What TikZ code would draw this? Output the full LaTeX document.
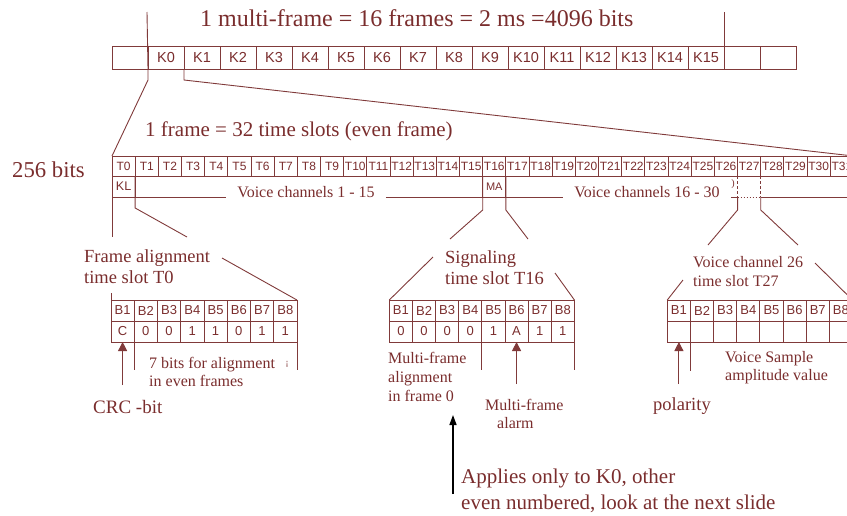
\documentclass[tikz,border=0pt]{standalone}
\usepackage{fontspec}
\setmainfont{Liberation Serif}
\newfontfamily\lsans{Liberation Sans}
\usetikzlibrary{arrows.meta}
\definecolor{tc}{RGB}{122,45,45}
\definecolor{lc}{RGB}{128,58,58}
\newcommand\myfs[1]{\fontsize{#1}{#1}\selectfont}
\begin{document}
\begin{tikzpicture}[x=1pt,y=-1pt,
 ln/.style={draw=lc,line width=0.9pt},
 cellb/.style={draw=lc,line width=0.9pt,inner sep=0pt,outer sep=0pt,anchor=north west,text=tc},
 kcell/.style={cellb,minimum width=36pt,minimum height=23pt,font=\lsans\myfs{14.5}},
 tcell/.style={cellb,minimum width=23.17pt,minimum height=20pt,font=\lsans\myfs{12}},
 bcell/.style={cellb,minimum width=23.2pt,minimum height=21pt,font=\lsans\myfs{13}},
 lab/.style={text=tc,inner sep=0pt,anchor=base west},
 arr/.style={draw=lc,line width=1pt,-{Triangle[length=9pt,width=9pt]}},
]
\useasboundingbox (0,0) rectangle (847,515);

% ---- multi-frame row
\node[kcell] (e0) at (112,46) {};
\foreach \i in {0,...,15} \node[kcell] (k\i) at ({148+36*\i},46) {K\i};
\node[kcell] (e17) at (724,46) {};
\node[kcell] (e18) at (760,46) {};
\node[lab,font=\myfs{24}] (title) at (200,26) {1 multi-frame = 16 frames = 2 ms =4096 bits};

% ---- frame row
\foreach \i in {0,...,31} \node[tcell] (t\i) at ({112+23.17*\i},156) {T\i};

\coordinate (topL) at (147,12);
\coordinate (topR) at (724,12);
\draw[ln] (topL) -- (k0.south west) -- ++(0,11) -- (t0.north west);
\draw[ln] (topR) -- (k15.north east);
\draw[ln] (k0.south east) -- ++(0,11) -- (t31.north east);
\node[lab,font=\myfs{21}] (ftitle) at (145,136) {1 frame = 32 time slots (even frame)};
\node[lab,font=\myfs{22.7}] (bits) at (12,177) {256 bits};

\node[tcell,minimum height=21pt,font=\lsans\myfs{12.5}] (kl) at (t0.south west) {KL};
\node[tcell,minimum height=21pt,font=\lsans\myfs{11}] (ma) at (t16.south west) {MA};
\node[lab,font=\myfs{16},inner xsep=11pt,anchor=base] (vc1) at (306,197) {Voice channels 1 - 15};
\node[lab,font=\myfs{16},inner xsep=11pt,anchor=base] (vc2) at (647,197) {Voice channels 16 - 30};
\node[text=tc,font=\myfs{10},inner sep=0pt] (paren) at (733,184) {)};

\draw[ln] (kl.south west) -- (kl.south west -| vc1.west);
\draw[ln] (vc1.east |- kl.south) -- (vc2.west |- kl.south);
\draw[ln] (vc2.east |- kl.south) -- (t27.south west |- kl.south);
\draw[draw=lc,line width=0.9pt,dash pattern=on 1.5pt off 1.5pt] (t27.south west |- kl.south) -- (t27.south east |- kl.south);
\draw[ln] (t27.south east |- kl.south) -- (t31.south east |- kl.south);
\draw[draw=lc,line width=0.9pt,dash pattern=on 3pt off 2pt] (t27.south west) -- (t27.south west |- kl.south);
\draw[draw=lc,line width=0.9pt,dash pattern=on 3pt off 2pt] (t27.south east) -- (t27.south east |- kl.south);

% zoom connectors
\coordinate (fa0) at (112,237);
\coordinate (fa1) at (187,237);
\coordinate (sg0) at (450,239);
\coordinate (sg1) at (528,239);
\coordinate (vq0) at (708,245);
\coordinate (vq1) at (798,245);
\draw[ln] (t0.north west) -- (fa0);
\draw[ln] (t0.south east) -- ++(0,32) -- (fa1);
\draw[ln] (t16.south west) -- ++(0,34) -- (sg0);
\draw[ln] (t16.south east) -- ++(0,34) -- (sg1);
\draw[ln] (t27.south west |- kl.south) -- ++(0,13) -- (vq0);
\draw[ln] (t27.south east |- kl.south) -- ++(0,13) -- (vq1);

% ---- frame alignment slot
\foreach \i in {1,...,8} \node[bcell] (fb\i) at ({111+23.25*(\i-1)},300) {B\i};
\foreach \v [count=\i] in {C,0,0,1,1,0,1,1} \node[bcell] (fv\i) at ({111+23.25*(\i-1)},321) {\v};
\node[lab,font=\myfs{18.5}] (fal1) at (84,262) {Frame alignment};
\node[lab,font=\myfs{18.5}] (fal2) at (84,283) {time slot T0};
\coordinate (fa2) at (222,258);
\draw[ln] (fa2) -- (fb8.north east);
\draw[ln] (fb1.north west) -- ++(0,-7);
\draw[ln] (fv1.south east) -- ++(0,28);
\draw[ln] (fv8.south east) -- ++(0,28);
\node[lab,font=\myfs{16}] (sb7a) at (149,368) {7 bits for alignment};
\node[lab,font=\myfs{16}] (sb7b) at (149,386) {in even frames};
\node[text=tc,font=\myfs{9},inner sep=0pt] (mark) at (287,364) {¡};
\draw[arr] ([yshift=-43pt]fv1.south) -- (fv1.south);
\node[lab,font=\myfs{19}] (crc) at (93,413) {CRC -bit};

% ---- signaling slot
\foreach \i in {1,...,8} \node[bcell] (sb\i) at ({389.3+23.13*(\i-1)},300) {B\i};
\foreach \v [count=\i] in {0,0,0,0,1,A,1,1} \node[bcell] (sv\i) at ({389.3+23.13*(\i-1)},321) {\v};
\node[lab,font=\myfs{18.5}] (sl1) at (445,263) {Signaling};
\node[lab,font=\myfs{18.5}] (sl2) at (445,284) {time slot T16};
\coordinate (sg2) at (433,257);
\coordinate (sg3) at (555,273);
\draw[ln] (sg2) -- (sb1.north west);
\draw[ln] (sg3) -- (sb8.north east);
\draw[ln] (sv4.south east) -- ++(0,28);
\draw[ln] (sv8.south east) -- ++(0,28);
\draw[arr] ([yshift=-42pt]sv6.south) -- (sv6.south);
\node[lab,font=\myfs{16}] (mf1) at (388,363) {Multi-frame};
\node[lab,font=\myfs{16}] (mf2) at (388,382) {alignment};
\node[lab,font=\myfs{16}] (mf3) at (388,401.5) {in frame 0};
\node[lab,font=\myfs{16}] (al1) at (485,410) {Multi-frame};
\node[lab,font=\myfs{16}] (al2) at (497,428) {alarm};

\coordinate (ap0) at (453,494);
\coordinate (ap1) at (453,415);
\draw[black,line width=1.5pt,-{Triangle[length=10pt,width=7pt]}] (ap0) -- (ap1);
\node[lab,font=\myfs{21}] (ap2) at (461,483) {Applies only to K0, other};
\node[lab,font=\myfs{21}] (ap3) at (461,509) {even numbered, look at the next slide};

% ---- voice slot
\foreach \i in {1,...,8} \node[bcell] (rb\i) at ({667.3+23.14*(\i-1)},300) {B\i};
\foreach \i in {1,...,8} \node[bcell] (rv\i) at ({667.3+23.14*(\i-1)},321) {};
\node[lab,font=\myfs{16}] (vl1) at (693,267) {Voice channel 26};
\node[lab,font=\myfs{16}] (vl2) at (693,286) {time slot T27};
\coordinate (vq2) at (683,280);
\coordinate (vq3) at (815,263);
\draw[ln] (vq2) -- (rb1.north west);
\draw[ln] (vq3) -- (rb8.north east);
\draw[ln] (rv1.south east) -- ++(0,29);
\draw[arr] ([yshift=-42pt]rv1.south) -- (rv1.south);
\node[lab,font=\myfs{16}] (vs1) at (725,362) {Voice Sample};
\node[lab,font=\myfs{16}] (vs2) at (725,380) {amplitude value};
\node[lab,font=\myfs{18.5}] (pol) at (653,410) {polarity};
\end{tikzpicture}
\end{document}
